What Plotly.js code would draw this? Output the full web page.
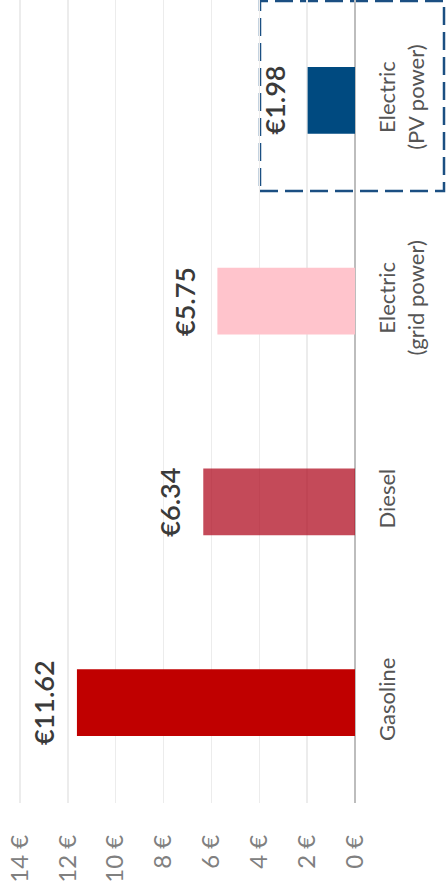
<!DOCTYPE html>
<html>
<head>
<meta charset="utf-8">
<script src="https://cdn.plot.ly/plotly-3.0.1.min.js"></script>
<style>html,body{margin:0;padding:0;background:#fff;}#chart{width:446px;height:893px;}</style>
</head>
<body>
<div id="chart"></div>
<script>
const categories = ['Gasoline', 'Diesel', 'Electric<br>(grid power)', 'Electric<br>(PV power)'];
const costs = [11.62, 6.34, 5.75, 1.98];
const barColors = ['#c00000', 'rgba(176,14,34,0.75)', '#ffc4cc', '#004a80'];
const tickValues = [0, 2, 4, 6, 8, 10, 12, 14];
const tickLabels = ['0 €', '2 €', '4 €', '6 €', '8 €', '10 €', '12 €', '14 €'];

const trace = {
  type: 'bar',
  orientation: 'h',
  y: categories,
  x: costs,
  marker: {color: barColors, line: {width: 0}},
  hoverinfo: 'none'
};

const annotations = costs.map((v, i) => ({
  x: v, y: categories[i], xref: 'x', yref: 'y',
  text: '€' + v.toFixed(2),
  showarrow: false,
  textangle: -90,
  xanchor: 'right', yanchor: 'middle',
  xshift: -15,
  font: {family: 'Lato, sans-serif', size: 27, color: '#3a3a3a', weight: 600}
}));

const layout = {
  width: 446, height: 893,
  margin: {l: 0, r: 91, t: 0, b: 90},
  paper_bgcolor: '#fff', plot_bgcolor: '#fff',
  showlegend: false,
  bargap: 0.667,
  xaxis: {
    range: [14.835, 0],
    tickvals: tickValues, ticktext: tickLabels,
    tickangle: -90,
    showgrid: true, gridcolor: '#ececec', gridwidth: 1.5,
    zeroline: true, zerolinecolor: '#bdbdbd', zerolinewidth: 2.5,
    showline: false, ticks: '',
    ticklabelstandoff: 26,
    tickfont: {family: 'Lato, sans-serif', size: 24, color: '#808080'}
  },
  yaxis: {
    side: 'right',
    tickangle: -90,
    showgrid: false, zeroline: false, showline: false, ticks: '',
    range: [-0.5, 3.5],
    ticklabelstandoff: 17,
    tickfont: {family: 'Lato, sans-serif', size: 22, color: '#555'}
  },
  annotations: annotations,
  shapes: [{
    type: 'rect', xref: 'paper', yref: 'paper', layer: 'below',
    x0: 260/355, x1: 444/355, y0: (803-191)/803, y1: (803-1)/803,
    line: {color: '#1b4f82', width: 2.5, dash: '18px,7px'},
    fillcolor: 'rgba(0,0,0,0)'
  }]
};

Plotly.newPlot('chart', [trace], layout, {displayModeBar: false, staticPlot: true});
</script>
</body>
</html>
